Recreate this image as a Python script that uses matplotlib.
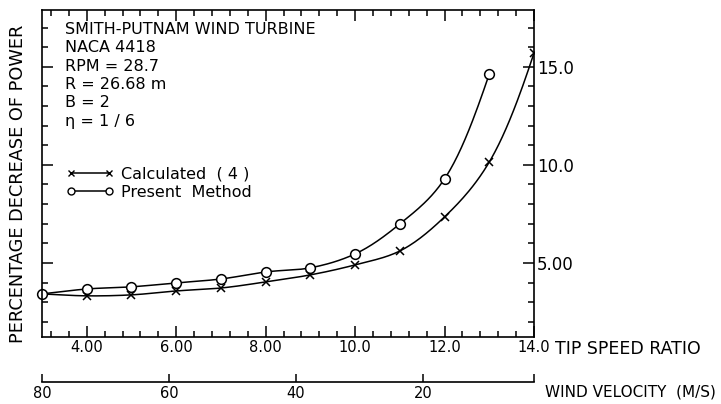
import numpy as np
import matplotlib
matplotlib.use("Agg")
import matplotlib.pyplot as plt
from matplotlib.ticker import MultipleLocator, FixedLocator

# tip speed ratio and percentage decrease of power
tsr_present = [3, 4, 5, 6, 7, 8, 9, 10, 11, 12, 13]
pct_present = [3.42, 3.67, 3.78, 3.98, 4.18, 4.54, 4.75, 5.46, 6.99, 9.29, 14.64]

tsr_calc = [3, 4, 5, 6, 7, 8, 9, 10, 11, 12, 13, 14]
pct_calc = [3.42, 3.32, 3.37, 3.57, 3.72, 4.03, 4.39, 4.90, 5.61, 7.35, 10.15, 15.71]

x_ticks = [4, 6, 8, 10, 12, 14]
x_labels = ["4.00", "6.00", "8.00", "10.0", "12.0", "14.0"]
y_ticks = [5, 10, 15]
y_labels = ["5.00", "10.0", "15.0"]
v_ticks = [80, 60, 40, 20]
v_labels = ["80", "60", "40", "20"]

info_lines = ["SMITH-PUTNAM WIND TURBINE", "NACA 4418", "RPM = 28.7",
              "R = 26.68 m", "B = 2", "\u03b7 = 1 / 6"]


def smooth(x, y, n=24):
    # catmull-rom curve through the points (in log space), only for drawing the line
    x = np.asarray(x, float)
    y = np.log(np.asarray(y, float))
    px = np.concatenate([[2 * x[0] - x[1]], x, [2 * x[-1] - x[-2]]])
    py = np.concatenate([[2 * y[0] - y[1]], y, [2 * y[-1] - y[-2]]])
    t = np.linspace(0, 1, n, endpoint=False)
    xs, ys = [], []
    for i in range(1, len(px) - 2):
        for p, out in ((px, xs), (py, ys)):
            p0, p1, p2, p3 = p[i - 1], p[i], p[i + 1], p[i + 2]
            out.append(0.5 * (2 * p1 + (-p0 + p2) * t
                              + (2 * p0 - 5 * p1 + 4 * p2 - p3) * t ** 2
                              + (-p0 + 3 * p1 - 3 * p2 + p3) * t ** 3))
    return np.concatenate(xs + [[x[-1]]]), np.exp(np.concatenate(ys + [[y[-1]]]))


plt.rcParams["font.family"] = "DejaVu Sans"
fig = plt.figure(figsize=(7.21, 4.04), dpi=100)
ax = fig.add_axes([0.0583, 0.1658, 0.6824, 0.8094])

sx, sy = smooth(tsr_calc, pct_calc)
ax.plot(sx, sy, color="black", lw=1.1)
ax.plot(tsr_calc[1:], pct_calc[1:], ls="none", marker="x", ms=6, mew=1.1, color="black")
sx, sy = smooth(tsr_present, pct_present)
ax.plot(sx, sy, color="black", lw=1.1)
ax.plot(tsr_present, pct_present, ls="none", marker="o", ms=7, mew=1.1,
        mfc="white", color="black", clip_on=False)

ax.set_xlim(3, 14)
ax.set_ylim(1.22, 17.9)

ax.xaxis.set_major_locator(FixedLocator(x_ticks))
ax.set_xticklabels(x_labels)
ax.xaxis.set_minor_locator(MultipleLocator(0.4))
ax.yaxis.set_major_locator(FixedLocator(y_ticks))
ax.set_yticklabels(y_labels)
ax.yaxis.set_minor_locator(MultipleLocator(1))
ax.tick_params(which="both", direction="in", top=True, right=True, left=True,
               labelleft=False, labelright=True, labelsize=10.5, width=1.1, pad=2)
ax.tick_params(axis="y", labelsize=12)
ax.tick_params(which="major", length=8)
ax.tick_params(which="minor", length=4)
for s in ax.spines.values():
    s.set_linewidth(1.2)

for i, line in enumerate(info_lines):
    ax.text(0.047, 0.94 - i * 0.056, line, transform=ax.transAxes,
            fontsize=11.5, va="center", ha="left")

h1, = ax.plot([], [], color="black", lw=1.1, marker="x", ms=5, mew=1.0)
h2, = ax.plot([], [], color="black", lw=1.1, marker="o", ms=5, mew=1.0, mfc="white")
ax.legend([h1, h2], ["Calculated  ( 4 )", "Present  Method"], loc="upper left",
          bbox_to_anchor=(0.02, 0.565), numpoints=2, frameon=False, fontsize=11.5,
          handlelength=3.0, handletextpad=0.4, labelspacing=0.2)

fig.text(0.025, 0.545, "PERCENTAGE DECREASE OF POWER", rotation=90,
         ha="center", va="center", fontsize=12.8)
fig.text(0.77, 0.135, "TIP SPEED RATIO", ha="left", va="center", fontsize=12.5)

# wind velocity scale under the main axis
av = fig.add_axes([0.0583, 0.0545, 0.6824, 0.0001])
av.set_xlim(80, 2.5)
for k in ("top", "left", "right"):
    av.spines[k].set_visible(False)
av.spines["bottom"].set_linewidth(1.2)
av.set_yticks([])
av.xaxis.set_major_locator(FixedLocator(v_ticks))
av.set_xticklabels(v_labels)
av.xaxis.set_minor_locator(FixedLocator([2.5]))
av.tick_params(which="both", direction="in", length=6, width=1.1, labelsize=10.5, pad=3)
fig.text(0.756, 0.03, "WIND VELOCITY  (M/S)", ha="left", va="center", fontsize=11)

fig.savefig("out.png", dpi=100)
